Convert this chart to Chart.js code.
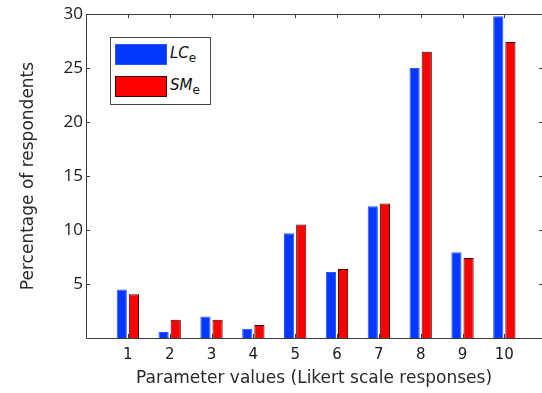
<!DOCTYPE html>
<html>
<head>
<meta charset="utf-8">
<script src="https://cdn.jsdelivr.net/npm/chart.js@4.4.1/dist/chart.umd.min.js"></script>
<style>
  html, body { margin: 0; padding: 0; background: #fff; overflow: hidden; width: 542px; height: 393px; }
  #wrap { position: relative; width: 542px; height: 393px; }
  #c { display: block; width: 542px; height: 393px; }
  #legend { position: absolute; left: 110px; top: 37px; width: 99px; height: 66px; border: 1px solid #444; background: #fff;
            font-family: "DejaVu Sans", sans-serif; font-size: 15px; color: #111; }
  .row { position: absolute; left: 4px; height: 21px; display: flex; align-items: center; }
  .sw { width: 52px; height: 21px; box-sizing: border-box; margin-right: 3px; }
  sub { font-style: normal; font-size: 12px; vertical-align: -4px; }
</style>
</head>
<body>
<div id="wrap">
  <canvas id="c" width="542" height="393"></canvas>
  <div id="legend"></div>
</div>
<script>
const categories = [1, 2, 3, 4, 5, 6, 7, 8, 9, 10];
const lcValues = [4.5, 0.55, 2.0, 0.85, 9.7, 6.1, 12.2, 25.0, 7.95, 29.8];
const smValues = [4.05, 1.7, 1.7, 1.2, 10.5, 6.4, 12.45, 26.5, 7.4, 27.4];
const seriesNames = [["LC", "e"], ["SM", "e"]];
const seriesColors = ["#0538ff", "#ff0000"];
const seriesBorders = ["#2a55ff", "#3a0000"];
const yTicks = [5, 10, 15, 20, 25, 30];
const xTitle = "Parameter values (Likert scale responses)";
const yTitle = "Percentage of respondents";

const axisColor = "#3a3a3a";

// frame: left, top, bottom axis lines (the right axis lies just past the visible edge)
const frame = {
  id: "frame",
  afterDraw(chart) {
    const ctx = chart.ctx, a = chart.chartArea;
    const xs = chart.scales.x, ys = chart.scales.y;
    const W = chart.width;
    ctx.save();
    ctx.strokeStyle = axisColor;
    ctx.lineWidth = 1;
    ctx.beginPath();
    ctx.moveTo(W, a.top + 0.5);
    ctx.lineTo(a.left + 0.5, a.top + 0.5);
    ctx.lineTo(a.left + 0.5, a.bottom + 0.5);
    ctx.lineTo(W, a.bottom + 0.5);
    ctx.stroke();
    const L = 4;
    ctx.beginPath();
    yTicks.forEach(v => {
      const y = Math.round(ys.getPixelForValue(v)) + 0.5;
      ctx.moveTo(a.left, y); ctx.lineTo(a.left + L, y);
      ctx.moveTo(W, y); ctx.lineTo(W - 3, y);
    });
    categories.forEach(v => {
      const x = Math.round(xs.getPixelForValue(v)) + 0.5;
      ctx.moveTo(x, a.top); ctx.lineTo(x, a.top + L);
      ctx.moveTo(x, a.bottom); ctx.lineTo(x, a.bottom - L);
    });
    ctx.stroke();
    ctx.restore();
  }
};

const chart = new Chart(document.getElementById("c"), {
  type: "bar",
  data: {
    datasets: [
      { label: seriesNames[0].join(""), data: categories.map((c, i) => ({ x: c, y: lcValues[i] })),
        backgroundColor: seriesColors[0], borderColor: seriesBorders[0], borderWidth: 1,
        categoryPercentage: 0.58, barPercentage: 0.84 },
      { label: seriesNames[1].join(""), data: categories.map((c, i) => ({ x: c, y: smValues[i] })),
        backgroundColor: seriesColors[1], borderColor: seriesBorders[1], borderWidth: 1,
        categoryPercentage: 0.58, barPercentage: 0.84 }
    ]
  },
  options: {
    responsive: false,
    animation: false,
    layout: { padding: { top: 14, right: 0, left: 14, bottom: 0 } },
    plugins: { legend: { display: false }, tooltip: { enabled: false } },
    scales: {
      x: {
        type: "linear", min: 0, max: 10.9, offset: false,
        grid: { display: false, drawTicks: false },
        border: { display: false },
        afterBuildTicks(s) { s.ticks = categories.map(v => ({ value: v })); },
        ticks: { color: "#1a1a1a", font: { family: "DejaVu Sans", size: 15 }, padding: 8, maxRotation: 0, autoSkip: false },
        title: { display: true, text: xTitle, color: "#2a2a2a", font: { family: "DejaVu Sans", size: 17 }, padding: { top: 7 } },
        afterFit(s) { s.height = 55; }
      },
      y: {
        min: 0, max: 30,
        grid: { display: false, drawTicks: false },
        border: { display: false },
        afterBuildTicks(s) { s.ticks = yTicks.map(v => ({ value: v })); },
        ticks: { color: "#1a1a1a", font: { family: "Open Sans", size: 17 }, padding: 3 },
        title: { display: true, text: yTitle, color: "#2a2a2a", font: { family: "DejaVu Sans", size: 17 }, padding: { bottom: 2 } },
        afterFit(s) { s.width = 72; }
      }
    }
  },
  plugins: [frame]
});

// HTML legend with subscripts
const leg = document.getElementById("legend");
seriesNames.forEach((n, i) => {
  const row = document.createElement("div");
  row.className = "row";
  row.style.top = (i === 0 ? 6 : 38) + "px";
  const sw = document.createElement("div");
  sw.className = "sw";
  sw.style.background = seriesColors[i];
  sw.style.border = "1px solid " + seriesBorders[i];
  const t = document.createElement("span");
  const it = document.createElement("i");
  it.textContent = n[0];
  const sb = document.createElement("sub");
  sb.textContent = n[1];
  t.appendChild(it); t.appendChild(sb);
  row.appendChild(sw); row.appendChild(t);
  leg.appendChild(row);
});
</script>
</body>
</html>
